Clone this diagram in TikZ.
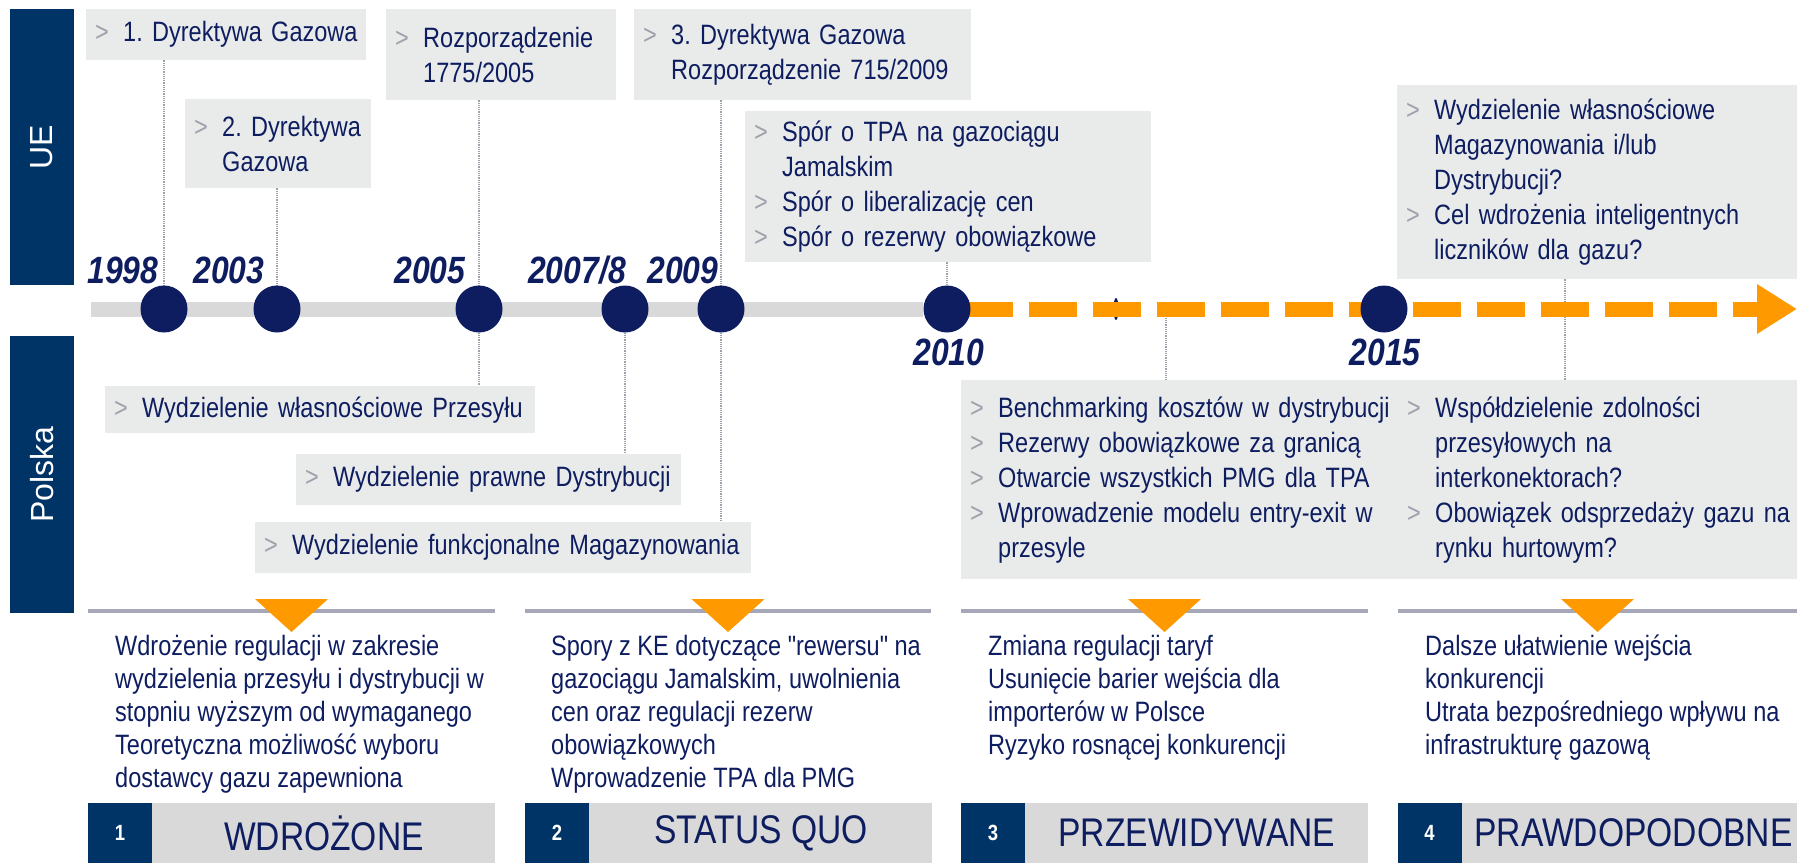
\documentclass[tikz,border=0pt]{standalone}
\usepackage{fontspec}
\newfontfamily\narrowfont{Liberation Sans}[FakeStretch=0.84]
\newfontfamily\sidefont{Liberation Sans}
\usetikzlibrary{arrows.meta,backgrounds}

\definecolor{navy}{RGB}{14,29,96}
\definecolor{barblue}{RGB}{0,51,102}
\definecolor{boxgray}{RGB}{233,235,235}
\definecolor{linegray}{RGB}{217,217,217}
\definecolor{sepgray}{RGB}{166,168,184}
\definecolor{chev}{RGB}{160,160,172}
\definecolor{fut}{RGB}{255,153,0}

\newcommand{\itm}[1]{\mbox{\makebox[28pt][l]{\textcolor{chev}{>}}#1}}
\newcommand{\cnt}[1]{\mbox{\hspace*{28pt}#1}}

\begin{document}
\frenchspacing
\begin{tikzpicture}[x=1pt,y=-1pt,
  evbox/.style={fill=boxgray,anchor=north west,align=left,inner xsep=9pt,inner ysep=0pt,text=navy,font=\narrowfont\fontsize{28}{35}\selectfont},
  yeardot/.style={circle,fill=navy,minimum size=47pt,inner sep=0pt},
  yearlbl/.style={anchor=base,text=navy,inner sep=0pt,font=\narrowfont\fontsize{38}{38}\selectfont\bfseries\itshape},
  sidebar/.style={fill=barblue,text=white,rotate=90,minimum width=276pt,minimum height=64pt,inner sep=0pt,font=\sidefont\fontsize{32}{32}\selectfont},
  numbox/.style={fill=barblue,text=white,minimum width=64pt,minimum height=60pt,inner sep=0pt,font=\narrowfont\fontsize{22}{22}\selectfont\bfseries},
  phasebox/.style={anchor=west,fill=linegray,text=navy,minimum width=343pt,minimum height=60pt,inner sep=0pt,font=\narrowfont\fontsize{40}{40}\selectfont},
  desc/.style={anchor=north west,align=left,inner sep=0pt,text=navy,font=\narrowfont\fontsize{28}{33}\selectfont},
  link/.style={draw=chev,densely dotted,line width=1.2pt},
  tlbar/.style={draw=linegray,line width=15pt},
  future/.style={draw=fut,line width=15pt,dash pattern=on 48pt off 16pt,dash phase=46pt,-{Triangle[length=40pt,width=47pt]}},
  sep/.style={draw=sepgray,line width=4pt},
  marker/.style={fill=fut}]
\useasboundingbox (0,0) rectangle (1797,863);

% side bars
\node[sidebar] (uebar) at (42,147) {UE};
\node[sidebar,minimum width=277pt] (plbar) at (42,474.5) {Polska};

% UE events
\node[evbox,text width=262pt,minimum height=51pt] (ue1) at (86,9) {\itm{1. Dyrektywa Gazowa}};
\node[evbox,text width=168pt,minimum height=89pt] (ue2) at (185,99) {\itm{2. Dyrektywa}\\\cnt{Gazowa}};
\node[evbox,text width=212pt,minimum height=91pt] (ue3) at (386,9) {\itm{Rozporządzenie}\\\cnt{1775/2005}};
\node[evbox,text width=319pt,minimum height=91pt] (ue4) at (634,9) {\itm{3. Dyrektywa Gazowa}\\\cnt{Rozporządzenie 715/2009}};
\node[evbox,text width=388pt,minimum height=151pt] (ue5) at (745,111) {\itm{Spór o TPA na gazociągu}\\\cnt{Jamalskim}\\\itm{Spór o liberalizację cen}\\\itm{Spór o rezerwy obowiązkowe}};
\node[evbox,text width=382pt,minimum height=194pt] (ue6) at (1397,85) {\itm{Wydzielenie własnościowe}\\\cnt{Magazynowania i/lub}\\\cnt{Dystrybucji?}\\\itm{Cel wdrożenia inteligentnych}\\\cnt{liczników dla gazu?}};

% Polish events
\node[evbox,text width=412pt,minimum height=47pt] (pl1) at (105,386) {\itm{Wydzielenie własnościowe Przesyłu}};
\node[evbox,text width=367pt,minimum height=51pt] (pl2) at (296,454) {\itm{Wydzielenie prawne Dystrybucji}};
\node[evbox,text width=478pt,minimum height=51pt] (pl3) at (255,522) {\itm{Wydzielenie funkcjonalne Magazynowania}};
\node[evbox,text width=419pt,minimum height=199pt] (pl4) at (961,380) {\itm{Benchmarking kosztów w dystrybucji}\\\itm{Rezerwy obowiązkowe za granicą}\\\itm{Otwarcie wszystkich PMG dla TPA}\\\itm{Wprowadzenie modelu entry-exit w}\\\cnt{przesyle}};
\node[evbox,text width=381pt,minimum height=199pt] (pl5) at (1398,380) {\itm{Współdzielenie zdolności}\\\cnt{przesyłowych na}\\\cnt{interkonektorach?}\\\itm{Obowiązek odsprzedaży gazu na}\\\cnt{rynku hurtowym?}};

% timeline
\coordinate (tl0) at (91,309);
\coordinate (tlend) at (1797,309);
\coordinate (mid1) at (1166,309);
\coordinate (mid2) at (1565,309);
\node[yeardot] (d1998) at (164,309) {};
\node[yeardot] (d2003) at (277,309) {};
\node[yeardot] (d2005) at (479,309) {};
\node[yeardot] (d2007) at (625,309) {};
\node[yeardot] (d2009) at (721,309) {};
\node[yeardot] (d2010) at (947,309) {};
\node[yeardot] (d2015) at (1384,309) {};
\node[yearlbl] (y1998) at (123,283) {1998};
\node[yearlbl] (y2003) at (229,283) {2003};
\node[yearlbl] (y2005) at (430,283) {2005};
\node[yearlbl] (y2007) at (577,283) {2007/8};
\node[yearlbl] (y2009) at (683,283) {2009};
\node[yearlbl] (y2010) at (949,365) {2010};
\node[yearlbl] (y2015) at (1385,365) {2015};

% phases
\draw[sep] (88,611) -- (495,611);
\draw[sep] (525,611) -- (931,611);
\draw[sep] (961,611) -- (1368,611);
\draw[sep] (1398,611) -- (1797,611);
\fill[marker] (255,599) -- (328,599) -- (291.5,632) -- cycle;
\fill[marker] (691.5,599) -- (764.5,599) -- (728,632) -- cycle;
\fill[marker] (1128,599) -- (1201,599) -- (1164.5,632) -- cycle;
\fill[marker] (1561,599) -- (1634,599) -- (1597.5,632) -- cycle;

\node[desc] (t1) at (115,632) {\strut Wdrożenie regulacji w zakresie\\wydzielenia przesyłu i dystrybucji w\\stopniu wyższym od wymaganego\\Teoretyczna możliwość wyboru\\dostawcy gazu zapewniona};
\node[desc] (t2) at (551,632) {\strut Spory z KE dotyczące "rewersu" na\\gazociągu Jamalskim, uwolnienia\\cen oraz regulacji rezerw\\obowiązkowych\\Wprowadzenie TPA dla PMG};
\node[desc] (t3) at (988,632) {\strut Zmiana regulacji taryf\\Usunięcie barier wejścia dla\\importerów w Polsce\\Ryzyko rosnącej konkurencji};
\node[desc] (t4) at (1425,632) {\strut Dalsze ułatwienie wejścia\\konkurencji\\Utrata bezpośredniego wpływu na\\infrastrukturę gazową};

\node[numbox] (n1) at (120,833) {1};
\node[phasebox] (ph1) at (n1.east) {WDROŻONE};
\node[numbox] (n2) at (557,833) {2};
\node[phasebox] (ph2) at (n2.east) {STATUS QUO};
\node[numbox] (n3) at (993,833) {3};
\node[phasebox] (ph3) at (n3.east) {PRZEWIDYWANE};
\node[numbox] (n4) at (1429.5,833) {4};
\node[phasebox] (ph4) at (n4.east) {PRAWDOPODOBNE};

\begin{scope}[on background layer]
\draw[link] (d1998 |- ue1.south) -- (d1998);
\draw[link] (d2003 |- ue2.south) -- (d2003);
\draw[link] (d2005 |- ue3.south) -- (d2005);
\draw[link] (d2005) -- (d2005 |- pl1.north);
\draw[link] (d2007) -- (d2007 |- pl2.north);
\draw[link] (d2009 |- ue4.south) -- (d2009);
\draw[link] (d2009) -- (d2009 |- pl3.north);
\draw[link] (d2010 |- ue5.south) -- (d2010);
\draw[link] (mid1) -- (mid1 |- pl4.north);
\draw[link] (mid2 |- ue6.south) -- (mid2 |- pl5.north);
\draw[tlbar] (tl0) -- (d2010);
\fill[navy] (1116,309) ellipse (2.5 and 11);
\draw[future] (d2010.center) -- (tlend);
\end{scope}
\end{tikzpicture}
\end{document}
